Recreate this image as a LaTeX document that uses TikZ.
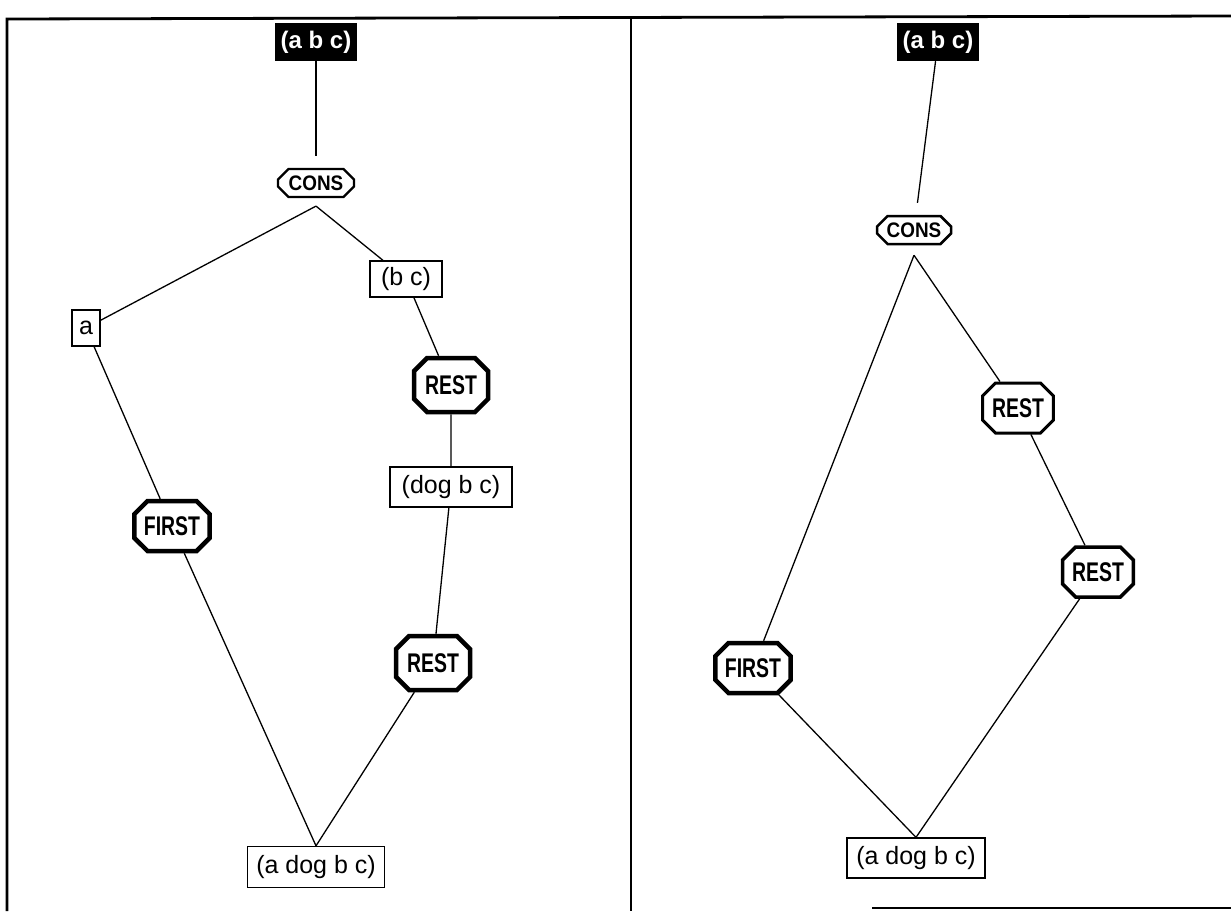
\documentclass[tikz,border=0pt]{standalone}
\usepackage{fontspec}
\setmainfont{Liberation Sans}
\usetikzlibrary{shapes.misc}
\newcommand{\opname}[2]{\scalebox{#1}[1]{\bfseries #2}}

\begin{document}
\begin{tikzpicture}[x=1pt,y=-1pt,
    listbox/.style={draw,line width=1.3pt,inner sep=0pt,minimum height=36pt,
      font=\fontsize{25}{27}\selectfont},
    result/.style={fill=black,text=white,inner sep=0pt,minimum width=82pt,
      minimum height=38pt,font=\fontsize{24}{26}\selectfont\bfseries},
    opbox/.style={draw,chamfered rectangle,chamfered rectangle xsep=11pt,
      inner sep=0pt,line width=#1,minimum width=70pt,minimum height=50pt,
      font=\fontsize{27}{29}\selectfont},
    consbox/.style={draw,chamfered rectangle,chamfered rectangle xsep=7pt,
      inner sep=0pt,line width=#1,minimum width=76pt,minimum height=28pt,
      font=\fontsize{21}{23}\selectfont},
    link/.style={line width=1.3pt}]
      \useasboundingbox (0,0) rectangle (1231,911);
      % frame
      \draw[line width=2.8pt] (7,911) -- (7,19) -- (1231,16);
      \draw[line width=2.8pt] (631,19) -- (631,911);
      \draw[line width=2.8pt] (872,908) -- (1231,908);
      % left panel
      \node[result] (labc) at (316,42) {(a b c)};
      \node[consbox=2.2pt] (lcons) at (316,183) {\opname{.9}{CONS}};
      \coordinate (lfork) at ([yshift=-8pt]lcons.south);
      \node[listbox,minimum width=28pt] (la) at (86,328) {a};
      \node[listbox,minimum width=72pt] (lbc) at (406,279) {(b c)};
      \node[opbox=4.5pt,minimum width=74pt,minimum height=54pt] (lrest1) at (451,385) {\opname{.72}{REST}};
      \node[listbox,minimum width=122pt,minimum height=40pt] (ldog) at (451,487) {(dog b c)};
      \node[opbox=4.5pt] (lfirst) at (172,526) {\opname{.72}{FIRST}};
      \node[opbox=4.5pt,minimum width=74pt,minimum height=54pt] (lrest2) at (433,663) {\opname{.72}{REST}};
      \node[listbox,minimum width=137pt,minimum height=41pt] (lres) at (316,867) {(a dog b c)};
      \draw[link,shorten >=12pt] (labc) -- (lcons);
      \draw[link] (lfork) -- (la);
      \draw[link] (lfork) -- (lbc);
      \draw[link] (la) -- (lfirst);
      \draw[link] (lbc) -- (lrest1);
      \draw[link] (lrest1) -- (ldog);
      \draw[link] (ldog) -- (lrest2);
      \draw[link] (lfirst) -- (lres.north);
      \draw[link] (lrest2) -- (lres.north);
      % right panel
      \node[result] (rabc) at (938,42) {(a b c)};
      \node[consbox=2.5pt,minimum width=74pt] (rcons) at (914,230) {\opname{.9}{CONS}};
      \coordinate (rfork) at ([yshift=-10pt]rcons.south);
      \node[opbox=3pt,minimum width=67pt] (rrest1) at (1018,408) {\opname{.72}{REST}};
      \node[opbox=3.5pt,minimum width=68pt] (rrest2) at (1098,572) {\opname{.72}{REST}};
      \node[opbox=4.5pt,minimum width=68pt] (rfirst) at (753,668) {\opname{.72}{FIRST}};
      \node[listbox,minimum width=138pt,minimum height=40pt] (rres) at (916,858) {(a dog b c)};
      \draw[link,shorten >=12pt] (rabc) -- (rcons);
      \draw[link] (rfork) -- (rfirst);
      \draw[link] (rfork) -- (rrest1);
      \draw[link] (rrest1) -- (rrest2);
      \draw[link] (rrest2) -- (rres.north);
      \draw[link] (rfirst) -- (rres.north);
\end{tikzpicture}
\end{document}
